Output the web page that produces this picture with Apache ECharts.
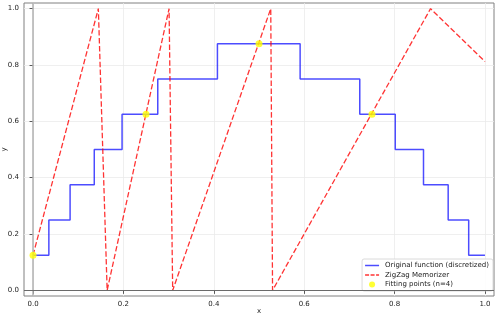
<!DOCTYPE html>
<html><head><meta charset="utf-8">
<script src="https://cdn.jsdelivr.net/npm/echarts@6/dist/echarts.min.js"></script>
<style>html,body{margin:0;padding:0;background:#fff}#c{width:498px;height:317px}</style>
</head><body><div id="c"></div>
<script>
// Step function (discretized original): x where each level starts, and its level
const stepX = [0, 0.035, 0.082, 0.1355, 0.197, 0.276, 0.408, 0.591, 0.723, 0.8015, 0.864, 0.9186, 0.964, 1.0];
const stepY = [0.125, 0.25, 0.375, 0.5, 0.625, 0.75, 0.875, 0.75, 0.625, 0.5, 0.375, 0.25, 0.125, 0.125];
// ZigZag memorizer vertices
const zigX = [0, 0.1445, 0.164, 0.301, 0.309, 0.526, 0.530, 0.8796, 1.0];
const zigY = [0.125, 1.0, 0.0, 1.0, 0.0, 1.0, 0.0, 1.0, 0.812];
// Fitting points
const fitX = [0, 0.25, 0.5, 0.75];
const fitY = [0.125, 0.625, 0.875, 0.625];
const tickVals = [0, 0.2, 0.4, 0.6, 0.8, 1.0];

const zip = (a, b) => a.map((v, i) => [v, b[i]]);
const font = 'DejaVu Sans';

const axisCommon = {
  type: 'value', min: -0.02, max: 1.02,
  axisLine: { show: false },
  axisTick: { show: true, length: 3.5, customValues: tickVals, lineStyle: { color: '#333', width: 0.8 } },
  axisLabel: { customValues: tickVals, fontSize: 7, color: '#222', fontFamily: font, formatter: v => v.toFixed(1), margin: 5 },
  splitLine: { show: true, lineStyle: { color: '#ebebeb', width: 0.8 } },
  nameMoveOverlap: false,
  nameTextStyle: { fontSize: 7, color: '#222', fontFamily: font }
};

const chart = echarts.init(document.getElementById('c'), null, { renderer: 'canvas' });
chart.setOption({
  animation: false,
  grid: { left: 24, right: 4, top: 3, bottom: 21, containLabel: false, outerBoundsMode: 'none', show: true, borderColor: '#808080', borderWidth: 1, backgroundColor: 'transparent' },
  xAxis: Object.assign({}, axisCommon, { name: 'x', nameLocation: 'middle', nameGap: 12 }),
  yAxis: Object.assign({}, axisCommon, { name: 'y', nameLocation: 'middle', nameGap: 16, nameRotate: 90 }),
  legend: {
    right: 5, bottom: 26, orient: 'vertical',
    itemWidth: 14, itemHeight: 6, itemGap: 2.5,
    padding: [3, 4, 3, 3],
    backgroundColor: 'rgba(255,255,255,0.85)', borderColor: '#d0d0d0', borderWidth: 0.8, borderRadius: 2,
    textStyle: { fontSize: 7, color: '#222', fontFamily: font, padding: [0, 0, 0, 1] },
    data: [
      { name: 'Original function (discretized)', icon: 'path://M0,0h14v1.5h-14z', itemStyle: { color: 'rgba(0,0,255,0.7)' } },
      { name: 'ZigZag Memorizer', icon: 'path://M0,0h4v1.5h-4z M5.5,0h4v1.5h-4z M11,0h3v1.5h-3z', itemStyle: { color: 'rgba(255,0,0,0.8)' } },
      { name: 'Fitting points (n=4)', icon: 'circle', itemStyle: { color: '#ffff00' } }
    ]
  },
  series: [
    {
      name: 'ref', type: 'line', data: [], silent: true,
      markLine: {
        symbol: 'none', silent: true, label: { show: false },
        data: [
          { xAxis: 0, lineStyle: { color: '#b0b0b0', width: 1.5, type: 'solid' } },
          { yAxis: 0, lineStyle: { color: '#6a6a6a', width: 1, type: 'solid' } }
        ]
      }
    },
    {
      name: 'Original function (discretized)', type: 'line', step: 'end',
      data: zip(stepX, stepY), showSymbol: false, symbol: 'none',
      lineStyle: { color: '#0000ff', width: 1.5, opacity: 0.7 }, itemStyle: { color: 'rgba(0,0,255,0.7)' }, z: 3
    },
    {
      name: 'ZigZag Memorizer', type: 'line',
      data: zip(zigX, zigY), showSymbol: false, symbol: 'none',
      lineStyle: { color: '#ff0000', width: 1.3, opacity: 0.8, type: [5.5, 2.4] }, itemStyle: { color: 'rgba(255,0,0,0.8)' }, z: 4
    },
    {
      name: 'Fitting points (n=4)', type: 'scatter',
      data: zip(fitX, fitY), symbolSize: 7,
      itemStyle: { color: '#ffff00' }, z: 5
    }
  ]
});
</script></body></html>
